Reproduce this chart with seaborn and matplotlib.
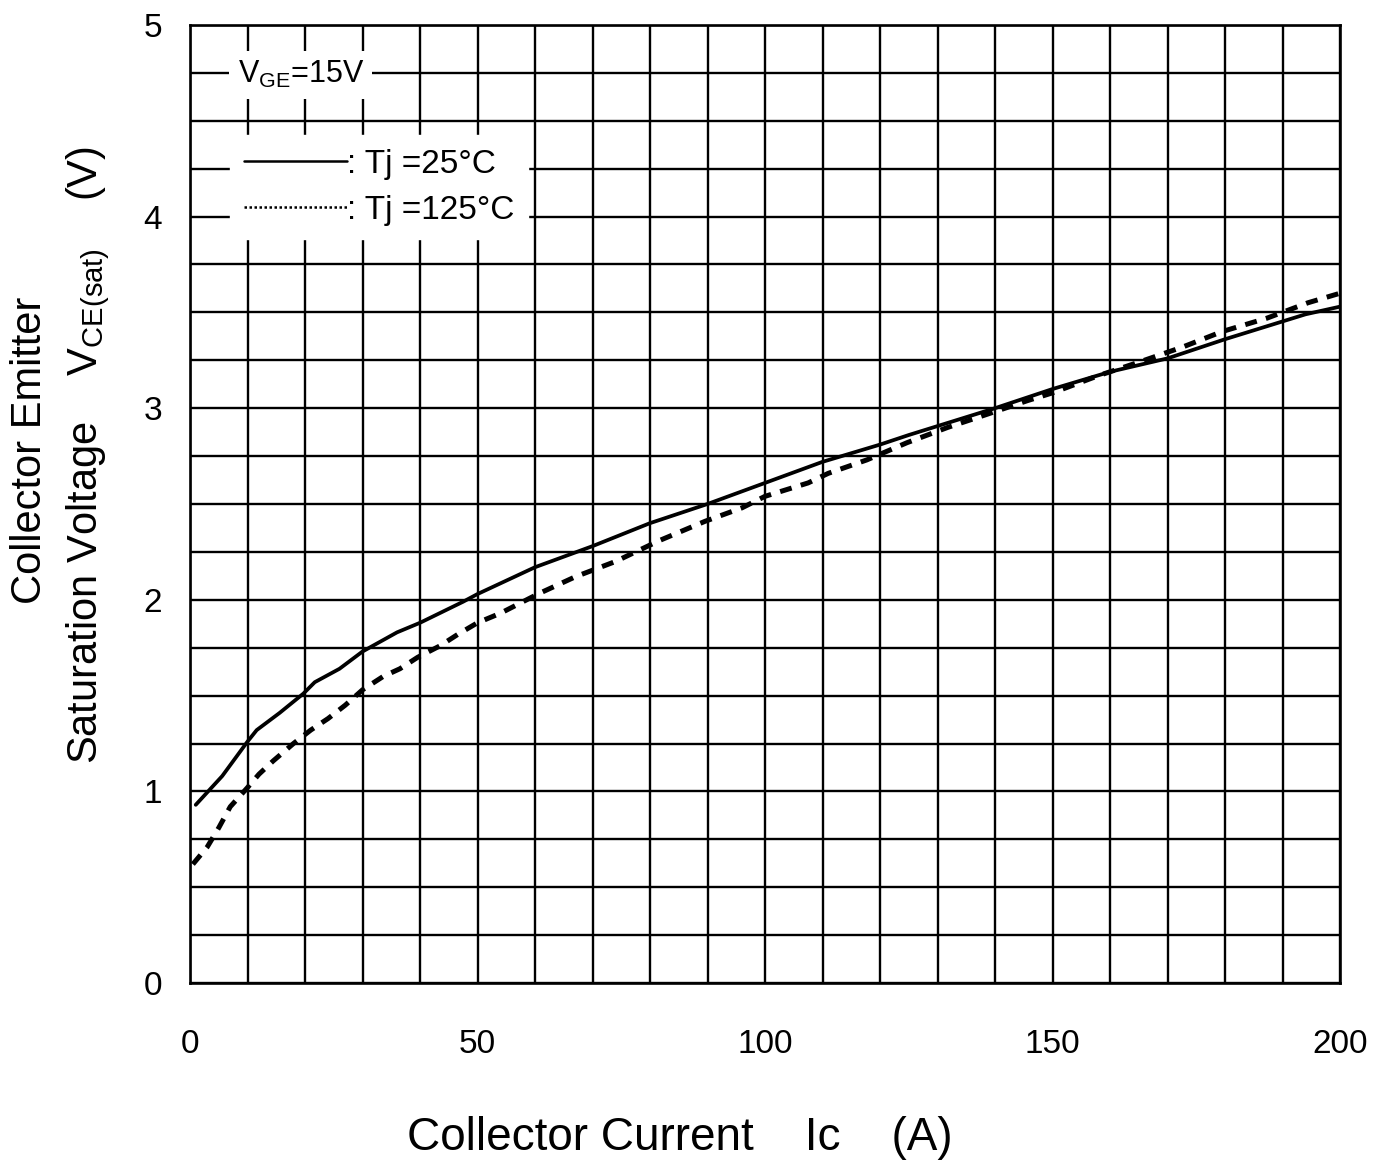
import numpy as np
import pandas as pd
import matplotlib
matplotlib.use("Agg")
import matplotlib.pyplot as plt
import seaborn as sns
from matplotlib.lines import Line2D
from matplotlib.ticker import MultipleLocator

# Tj = 25 C (solid)
ic_25 = [1, 5.6, 10, 11.6, 15.6, 19.7, 21.7, 26, 30, 36, 40, 47.5, 50, 60, 70, 80, 90,
         100, 110, 120, 125, 140, 150, 160, 170, 180, 194, 200]
v_25 = [0.93, 1.08, 1.26, 1.32, 1.41, 1.51, 1.57, 1.64, 1.73, 1.83, 1.88, 1.99, 2.03, 2.17,
        2.28, 2.40, 2.50, 2.61, 2.72, 2.81, 2.86, 3.00, 3.10, 3.19, 3.26, 3.36, 3.49, 3.53]

# Tj = 125 C (dashed)
ic_125 = [0.5, 3, 5, 7, 10, 12, 14.5, 18, 21, 24, 27, 30, 33.6, 36.5, 39.6, 43.5, 46.6, 50,
          54, 60.5, 67, 74, 81.7, 89.6, 96, 100, 107.5, 111, 117.7, 124.7, 131.8, 138.8,
          145.7, 150, 158, 165, 172.7, 179.5, 187.3, 194.4, 200]
v_125 = [0.62, 0.71, 0.81, 0.92, 1.02, 1.09, 1.16, 1.25, 1.32, 1.38, 1.45, 1.53, 1.60, 1.64,
         1.70, 1.76, 1.82, 1.88, 1.93, 2.03, 2.12, 2.20, 2.31, 2.41, 2.48, 2.54, 2.61, 2.66,
         2.73, 2.82, 2.90, 2.97, 3.04, 3.08, 3.17, 3.24, 3.32, 3.40, 3.47, 3.55, 3.60]

x_ticks = [0, 50, 100, 150, 200]
y_ticks = [0, 1, 2, 3, 4, 5]

sns.set_style("white")
plt.rcParams['font.family'] = ['Liberation Sans', 'DejaVu Sans']
plt.rcParams['mathtext.fontset'] = 'custom'
plt.rcParams['mathtext.rm'] = 'Liberation Sans'
plt.rcParams['text.color'] = 'black'
plt.rcParams['xtick.color'] = 'black'
plt.rcParams['ytick.color'] = 'black'

fig = plt.figure(figsize=(13.86, 11.65), dpi=100)
ax = fig.add_axes([190 / 1386, 1 - 983 / 1165, 1150 / 1386, 958 / 1165])

sns.lineplot(x=ic_25, y=v_25, ax=ax, color="black", linewidth=2.7, zorder=5)
sns.lineplot(x=ic_125, y=v_125, ax=ax, color="black", linewidth=3.6, zorder=5,
             dashes=False)
ax.lines[-1].set_dashes([2.4, 1.9])

ax.set_xlim(0, 200)
ax.set_ylim(0, 5)
ax.set_xticks(x_ticks)
ax.set_yticks(y_ticks)
ax.xaxis.set_minor_locator(MultipleLocator(10))
ax.yaxis.set_minor_locator(MultipleLocator(0.25))
ax.grid(True, which="both", color="black", linewidth=1.7)
ax.set_axisbelow(True)
ax.tick_params(which="both", length=0)
ax.tick_params(axis="x", labelsize=24, pad=33, labelcolor="black")
ax.tick_params(axis="y", labelsize=24, pad=20, labelcolor="black")
for s in ax.spines.values():
    s.set_color("black")
    s.set_linewidth(1.9)
ax.set_xlabel("")
ax.set_ylabel("")

# V_GE annotation
ax.text(8.3, 4.74, r"V$_{\mathregular{GE}}$=15V", fontsize=22, va="center", ha="left",
        color="black", zorder=6, bbox=dict(facecolor="white", edgecolor="none", pad=6))

handles = [Line2D([], [], color="black", linewidth=1.8),
           Line2D([], [], color="black", linewidth=1.8, linestyle=(0, (1, 1)))]
leg = ax.legend(handles, [": Tj =25°C", ": Tj =125°C"], loc="upper left",
                bbox_to_anchor=(0.035, 0.885), borderaxespad=0, fontsize=24,
                handlelength=3.1, handletextpad=0.0, frameon=True, framealpha=1,
                edgecolor="white", facecolor="white", fancybox=False, borderpad=0.4,
                labelspacing=0.45)
leg.set_zorder(6)
for t in leg.get_texts():
    t.set_color("black")

fig.text(680 / 1386, 1 - 1138 / 1165, "Collector Current    Ic    (A)", fontsize=33,
         ha="center", va="center", color="black")
fig.text(30 / 1386, 1 - 450 / 1165, "Collector Emitter", fontsize=30, rotation=90,
         ha="center", va="center", color="black")
fig.text(88 / 1386, 1 - 455 / 1165,
         r"Saturation Voltage    V$_{\mathregular{CE(sat)}}$    (V)", fontsize=30,
         rotation=90, ha="center", va="center", color="black")

fig.savefig("out.png", dpi=100, facecolor="white")
